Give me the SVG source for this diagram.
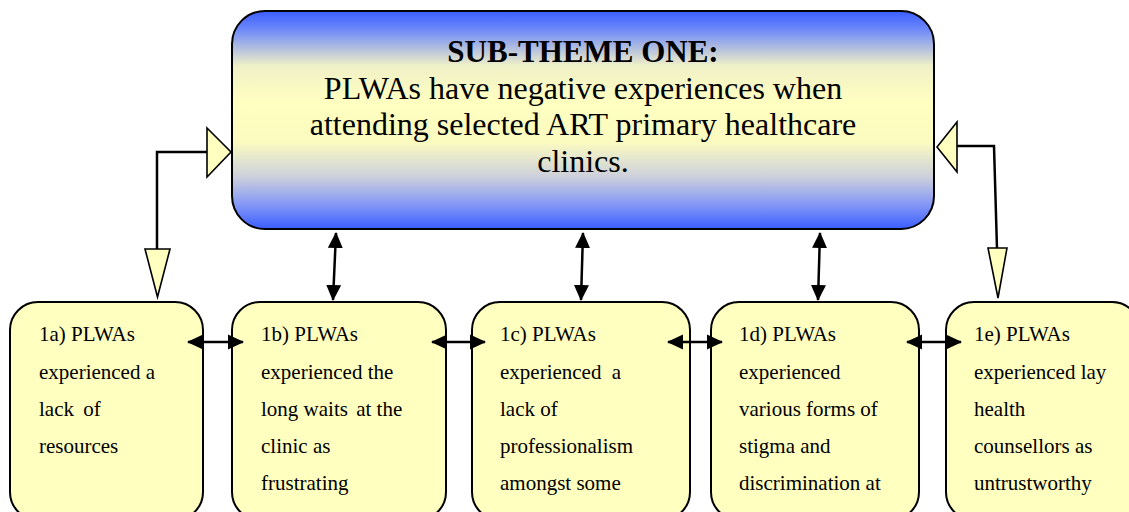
<svg xmlns="http://www.w3.org/2000/svg" width="1129" height="512" viewBox="0 0 1129 512">
<style>
.box{fill:#ffffc0;stroke:#000;stroke-width:2}
.t{font-family:"Liberation Serif","Times New Roman",serif;font-size:21px;fill:#000}
.h{font-family:"Liberation Serif","Times New Roman",serif;font-size:32px;fill:#000;text-anchor:middle}
.hb{font-weight:bold;font-size:31px}
.ln{fill:none;stroke:#000;stroke-width:2.5}
.dbl{fill:none;stroke:#000;stroke-width:2.5;marker-start:url(#ah);marker-end:url(#ah)}
.tri{fill:#ffffc0;stroke:#000;stroke-width:1.6;stroke-linejoin:miter}
</style>
<defs>
<linearGradient id="g" x1="0" y1="0" x2="0" y2="1">
<stop offset="0" stop-color="#3a5eff"/>
<stop offset="0.08" stop-color="#6a86fa"/>
<stop offset="0.25" stop-color="#f0f0c8"/>
<stop offset="0.42" stop-color="#ffffc0"/>
<stop offset="0.6" stop-color="#fbfbc0"/>
<stop offset="0.76" stop-color="#cdd0dc"/>
<stop offset="0.9" stop-color="#7d92f8"/>
<stop offset="1" stop-color="#3a5eff"/>
</linearGradient>
<marker id="ah" markerUnits="userSpaceOnUse" viewBox="0 0 16 16" refX="15" refY="8" markerWidth="16" markerHeight="16" orient="auto-start-reverse">
<path d="M0,0.5 L16,8 L0,15.5 z" fill="#000"/>
</marker>
</defs>

<g id="main">
<rect x="232" y="11" width="702" height="218" rx="33" ry="33" fill="url(#g)" stroke="#000" stroke-width="2"/>
<text class="h hb" x="583" y="62">SUB-THEME ONE:</text>
<text class="h" x="583" y="98.5">PLWAs have negative experiences when</text>
<text class="h" x="583" y="135">attending selected ART primary healthcare</text>
<text class="h" x="583" y="172">clinics.</text>
</g>

<g id="n1a">
<rect class="box" x="10" y="302" width="193" height="218" rx="28" ry="28"/>
<text class="t" x="39" y="341">1a) PLWAs</text>
<text class="t" x="39" y="378.5">experienced a</text>
<text class="t" x="39" y="416" word-spacing="4">lack of</text>
<text class="t" x="39" y="453">resources</text>
</g>

<g id="n1b">
<rect class="box" x="232" y="302" width="214" height="218" rx="28" ry="28"/>
<text class="t" x="261" y="341">1b) PLWAs</text>
<text class="t" x="261" y="378.5">experienced the</text>
<text class="t" x="261" y="416"><tspan>long waits</tspan><tspan dx="3"> at the</tspan></text>
<text class="t" x="261" y="453">clinic as</text>
<text class="t" x="261" y="490">frustrating</text>
</g>

<g id="n1c">
<rect class="box" x="472" y="302" width="218" height="218" rx="28" ry="28"/>
<text class="t" x="500" y="341">1c) PLWAs</text>
<text class="t" x="500" y="378.5" word-spacing="5">experienced a</text>
<text class="t" x="500" y="416">lack of</text>
<text class="t" x="500" y="453">professionalism</text>
<text class="t" x="500" y="490">amongst some</text>
</g>

<g id="n1d">
<rect class="box" x="711" y="302" width="208" height="218" rx="28" ry="28"/>
<text class="t" x="739" y="341">1d) PLWAs</text>
<text class="t" x="739" y="378.5">experienced</text>
<text class="t" x="739" y="416">various forms of</text>
<text class="t" x="739" y="453">stigma and</text>
<text class="t" x="739" y="490">discrimination at</text>
</g>

<g id="n1e">
<rect class="box" x="946" y="302" width="194" height="218" rx="28" ry="28"/>
<text class="t" x="974" y="341">1e) PLWAs</text>
<text class="t" x="974" y="378.5">experienced lay</text>
<text class="t" x="974" y="416">health</text>
<text class="t" x="974" y="453">counsellors as</text>
<text class="t" x="974" y="490">untrustworthy</text>
</g>

<g id="connectors">
<polyline class="ln" points="207,152 157,152 157,250"/>
<polygon class="tri" points="207,128 231,152 207,177"/>
<polygon class="tri" points="145,249 170,249 157.5,297"/>
<polyline class="ln" points="957,146 994,146 997,249"/>
<polygon class="tri" points="957,122 937,147 957,172"/>
<polygon class="tri" points="988,248 1007,248 998,298"/>
<line class="dbl" x1="336" y1="233" x2="333" y2="300"/>
<line class="dbl" x1="583" y1="233" x2="581" y2="300"/>
<line class="dbl" x1="820" y1="233" x2="818" y2="300"/>
<line class="dbl" x1="188" y1="342" x2="243" y2="342"/>
<line class="dbl" x1="432" y1="342" x2="485" y2="342"/>
<line class="dbl" x1="668" y1="342" x2="722" y2="342"/>
<line class="dbl" x1="907" y1="342" x2="961" y2="342"/>
</g>
</svg>
